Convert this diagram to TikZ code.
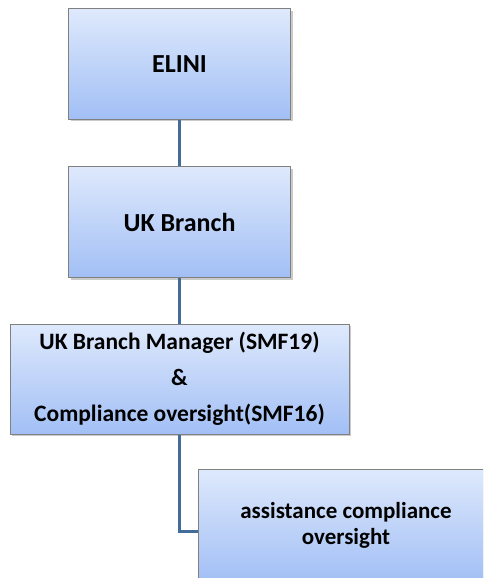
\documentclass[tikz,border=0pt]{standalone}
\usepackage{fontspec}
\setmainfont{Carlito}
\usetikzlibrary{calc}
\usetikzlibrary{shadows}

\definecolor{boxtop}{RGB}{222,233,252}
\definecolor{boxbottom}{RGB}{162,191,245}
\definecolor{boxline}{RGB}{128,128,128}
\definecolor{linkblue}{RGB}{68,108,152}

\tikzset{
  orgbox/.style = {draw = boxline, line width = 1pt, top color = boxtop,
    bottom color = boxbottom, align = center, inner sep = 0pt,
    drop shadow = {shadow xshift = 2pt, shadow yshift = -2pt, opacity = 0.35, fill = black!60}},
  link/.style = {draw = linkblue, line width = 3pt}
}

\begin{document}
\begin{tikzpicture}[x = 1pt, y = -1pt]
  % Area del disegno
  \useasboundingbox (0,0) rectangle (483,578);
  \clip (0,0) rectangle (483,578);

  % Posizioni dei livelli
  \coordinate (top)   at (179.5,64);
  \coordinate (mid)   at (179.5,222);
  \coordinate (low)   at (179.5,379);

  % Livelli superiori
  \node[orgbox, minimum width = 222pt, minimum height = 110pt,
        font = \fontsize{26}{30}\selectfont\bfseries] (elini) at (top) {ELINI};
  \node[orgbox, minimum width = 222pt, minimum height = 111pt,
        font = \fontsize{26}{30}\selectfont\bfseries] (branch) at (mid) {UK Branch};

  % Responsabile
  \node[orgbox, minimum width = 339pt, minimum height = 110pt,
        font = \fontsize{23.5}{36}\selectfont\bfseries] (manager) at (low)
        {UK Branch Manager (SMF19)\\ \&\\ Compliance oversight(SMF16)};

  % Assistenza
  \node[orgbox, minimum width = 296pt, minimum height = 112pt,
        font = \fontsize{23}{26}\selectfont\bfseries] (assist) at (346,525)
        {assistance compliance\\ oversight};

  % Linee di collegamento
  \draw[link] (elini.south) -- (branch.north);
  \draw[link] (branch.south) -- (manager.north);
  \draw[link] (manager.south) |- ([yshift = -6pt]assist.west);
\end{tikzpicture}
\end{document}
